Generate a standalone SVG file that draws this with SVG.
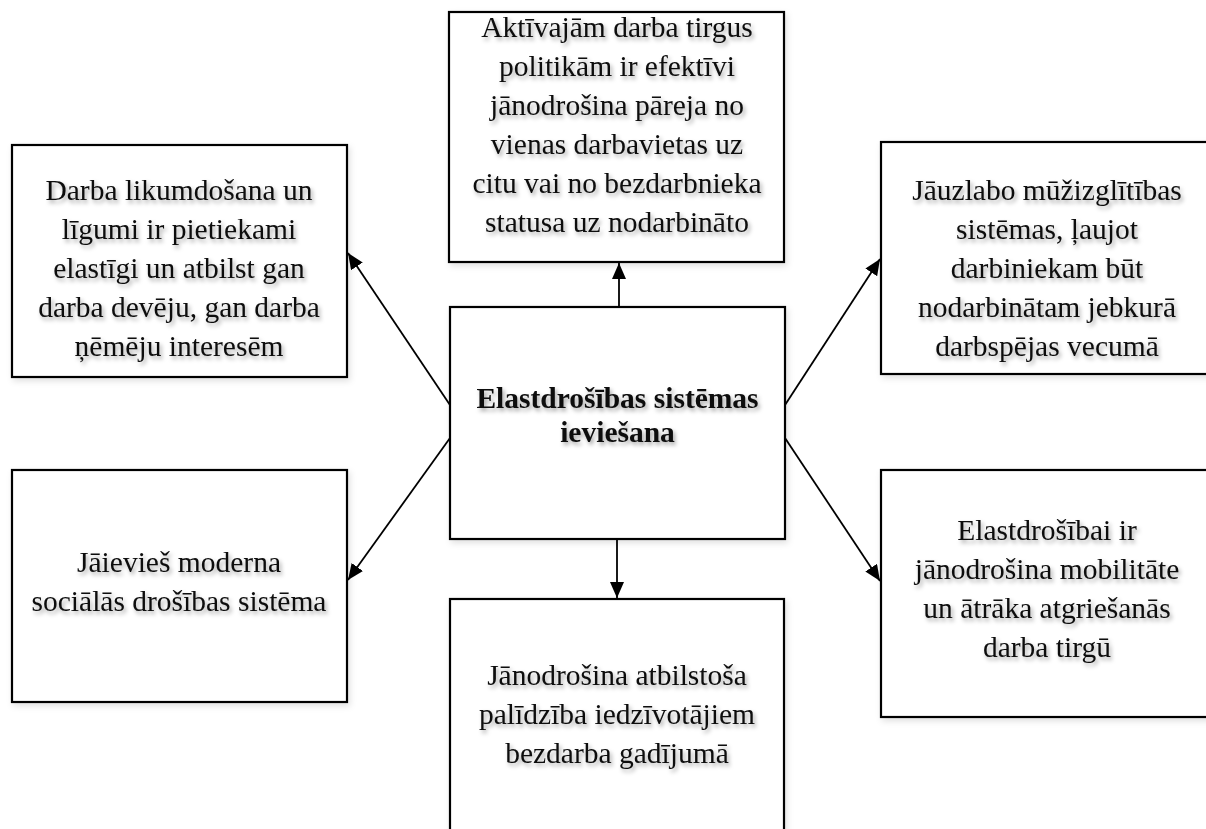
<svg xmlns="http://www.w3.org/2000/svg" width="1206" height="829" viewBox="0 0 1206 829">
  <defs>
    <style>
      .box { fill: #ffffff; stroke: #000000; stroke-width: 2.2; }
      .lbl { font-family: "Liberation Serif", "Times New Roman", serif; font-size: 29.5px; fill: #0d0d0d; text-anchor: middle; }
      .bold { font-weight: bold; }
      .conn { stroke: #000000; stroke-width: 1.8; fill: none; marker-end: url(#head); }
    </style>
    <filter id="txtShadow" x="-10%" y="-30%" width="120%" height="160%">
      <feDropShadow dx="2" dy="3" stdDeviation="2" flood-color="#000000" flood-opacity="0.35"/>
    </filter>
    <filter id="boxShadow" x="-10%" y="-10%" width="120%" height="120%">
      <feDropShadow dx="2" dy="3" stdDeviation="3" flood-color="#000000" flood-opacity="0.12"/>
    </filter>
    <marker id="head" markerUnits="userSpaceOnUse" markerWidth="16" markerHeight="14" refX="16" refY="7" orient="auto">
      <path d="M0,0 L16,7 L0,14 Z" fill="#000000"/>
    </marker>
  </defs>

  <rect width="1206" height="829" fill="#ffffff"/>

  <!-- connectors from the central node -->
  <g id="connectors">
    <line class="conn" x1="619" y1="307" x2="619" y2="263"/>
    <line class="conn" x1="617" y1="539" x2="617" y2="598"/>
    <line class="conn" x1="450" y1="405" x2="348" y2="253"/>
    <line class="conn" x1="450" y1="438" x2="348" y2="580"/>
    <line class="conn" x1="785" y1="405" x2="880" y2="259"/>
    <line class="conn" x1="785" y1="438" x2="880" y2="581"/>
  </g>

  <!-- central node -->
  <g id="node-center">
    <rect class="box" filter="url(#boxShadow)" x="450" y="307" width="335" height="232"/>
    <g filter="url(#txtShadow)">
      <text class="lbl bold" x="617.5" y="408">Elastdrošības sistēmas</text>
      <text class="lbl bold" x="617.5" y="442">ieviešana</text>
    </g>
  </g>

  <!-- top node -->
  <g id="node-top">
    <rect class="box" filter="url(#boxShadow)" x="449" y="12" width="335" height="250"/>
    <g filter="url(#txtShadow)">
      <text class="lbl" x="617" y="37">Aktīvajām darba tirgus</text>
      <text class="lbl" x="617" y="76">politikām ir efektīvi</text>
      <text class="lbl" x="617" y="115">jānodrošina pāreja no</text>
      <text class="lbl" x="617" y="154">vienas darbavietas uz</text>
      <text class="lbl" x="617" y="193">citu vai no bezdarbnieka</text>
      <text class="lbl" x="617" y="232">statusa uz nodarbināto</text>
    </g>
  </g>

  <!-- upper left node -->
  <g id="node-upper-left">
    <rect class="box" filter="url(#boxShadow)" x="12" y="145" width="335" height="232"/>
    <g filter="url(#txtShadow)">
      <text class="lbl" x="179" y="200">Darba likumdošana un</text>
      <text class="lbl" x="179" y="239">līgumi ir pietiekami</text>
      <text class="lbl" x="179" y="278">elastīgi un atbilst gan</text>
      <text class="lbl" x="179" y="317">darba devēju, gan darba</text>
      <text class="lbl" x="179" y="356">ņēmēju interesēm</text>
    </g>
  </g>

  <!-- upper right node -->
  <g id="node-upper-right">
    <rect class="box" filter="url(#boxShadow)" x="881" y="142" width="332" height="232"/>
    <g filter="url(#txtShadow)">
      <text class="lbl" x="1047" y="200">Jāuzlabo mūžizglītības</text>
      <text class="lbl" x="1047" y="239">sistēmas, ļaujot</text>
      <text class="lbl" x="1047" y="278">darbiniekam būt</text>
      <text class="lbl" x="1047" y="317">nodarbinātam jebkurā</text>
      <text class="lbl" x="1047" y="356">darbspējas vecumā</text>
    </g>
  </g>

  <!-- lower left node -->
  <g id="node-lower-left">
    <rect class="box" filter="url(#boxShadow)" x="12" y="470" width="335" height="232"/>
    <g filter="url(#txtShadow)">
      <text class="lbl" x="179" y="572">Jāievieš moderna</text>
      <text class="lbl" x="179" y="611">sociālās drošības sistēma</text>
    </g>
  </g>

  <!-- bottom node -->
  <g id="node-bottom">
    <rect class="box" filter="url(#boxShadow)" x="450" y="599" width="334" height="250"/>
    <g filter="url(#txtShadow)">
      <text class="lbl" x="617" y="685">Jānodrošina atbilstoša</text>
      <text class="lbl" x="617" y="724">palīdzība iedzīvotājiem</text>
      <text class="lbl" x="617" y="763">bezdarba gadījumā</text>
    </g>
  </g>

  <!-- lower right node -->
  <g id="node-lower-right">
    <rect class="box" filter="url(#boxShadow)" x="881" y="470" width="332" height="247"/>
    <g filter="url(#txtShadow)">
      <text class="lbl" x="1047" y="540">Elastdrošībai ir</text>
      <text class="lbl" x="1047" y="579">jānodrošina mobilitāte</text>
      <text class="lbl" x="1047" y="618">un ātrāka atgriešanās</text>
      <text class="lbl" x="1047" y="657">darba tirgū</text>
    </g>
  </g>
</svg>
